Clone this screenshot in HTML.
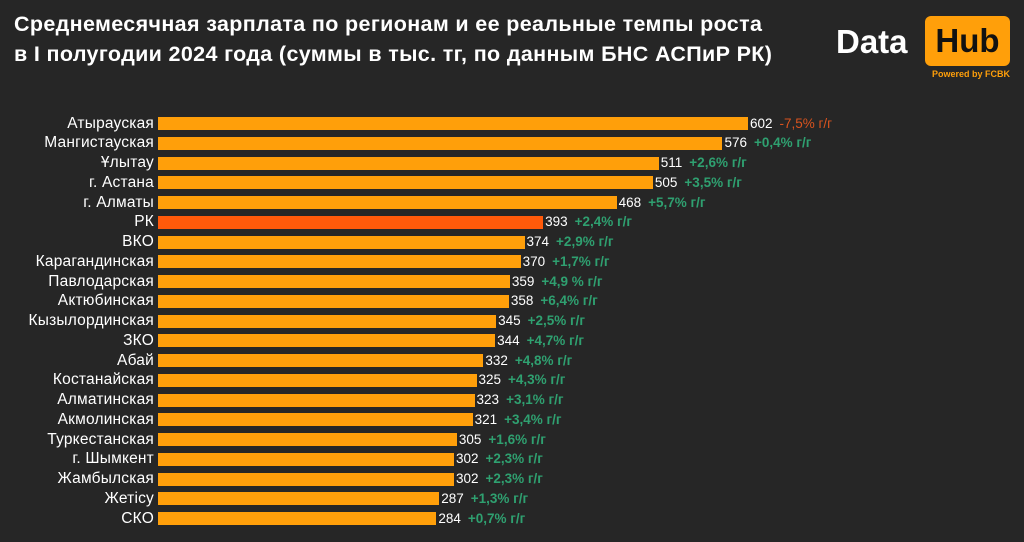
<!DOCTYPE html>
<html><head><meta charset="utf-8"><style>
body{margin:0;width:1024px;height:542px;background:#262626;overflow:hidden;font-family:"Liberation Sans",sans-serif;position:relative}
.t{position:absolute;left:14px;top:9px;color:#fff;font-weight:bold;font-size:21.5px;line-height:30px;letter-spacing:0.35px}
.lbl{position:absolute;right:870px;color:#fff;font-size:15.5px;white-space:nowrap;line-height:16px;letter-spacing:0.2px}
.bar{position:absolute;left:158px;height:13px;background:#ff9f0a}
.v{position:absolute;color:#fff;font-size:13.5px;line-height:16px;white-space:nowrap}
.v b{font-weight:bold;margin-left:7px;color:#2fa070}
</style></head><body>
<div class="t">Среднемесячная зарплата по регионам и ее реальные темпы роста<br>в I полугодии 2024 года (суммы в тыс. тг, по данным БНС АСПиР РК)</div>
<div style="position:absolute;left:836px;top:22px;color:#fff;font-weight:bold;font-size:33px;line-height:40px">Data</div>
<div style="position:absolute;left:925px;top:16px;width:85px;height:50px;background:#ff9f0a;border-radius:6px;color:#111;font-weight:bold;font-size:33px;line-height:50px;text-align:center">Hub</div>
<div style="position:absolute;left:925px;top:69px;width:85px;text-align:right;color:#ff9f0a;font-weight:bold;font-size:9px">Powered by FCBK</div>
<div id="c"></div>
<script>
var d=[["Атырауская",602,"-7,5% г/г"],["Мангистауская",576,"+0,4% г/г"],["Ұлытау",511,"+2,6% г/г"],["г. Астана",505,"+3,5% г/г"],["г. Алматы",468,"+5,7% г/г"],["РК",393,"+2,4% г/г"],["ВКО",374,"+2,9% г/г"],["Карагандинская",370,"+1,7% г/г"],["Павлодарская",359,"+4,9 % г/г"],["Актюбинская",358,"+6,4% г/г"],["Кызылординская",345,"+2,5% г/г"],["ЗКО",344,"+4,7% г/г"],["Абай",332,"+4,8% г/г"],["Костанайская",325,"+4,3% г/г"],["Алматинская",323,"+3,1% г/г"],["Акмолинская",321,"+3,4% г/г"],["Туркестанская",305,"+1,6% г/г"],["г. Шымкент",302,"+2,3% г/г"],["Жамбылская",302,"+2,3% г/г"],["Жетісу",287,"+1,3% г/г"],["СКО",284,"+0,7% г/г"]];
var h="";d.forEach(function(r,i){var y=123.5+i*19.75,w=r[1]*0.98;
h+='<div class="lbl" style="top:'+(y-8)+'px">'+r[0]+'</div>';
h+='<div class="bar" style="top:'+(y-6.5)+'px;width:'+w+'px;'+(i==5?'background:#ff5a0a':'')+'"></div>';
h+='<div class="v" style="top:'+(y-8)+'px;left:'+(160+w)+'px">'+r[1]+'<b'+(i==0?' style="color:#d9531e;font-weight:normal"':'')+'>'+r[2]+'</b></div>';});
document.getElementById("c").innerHTML=h;
</script>
</body></html>
